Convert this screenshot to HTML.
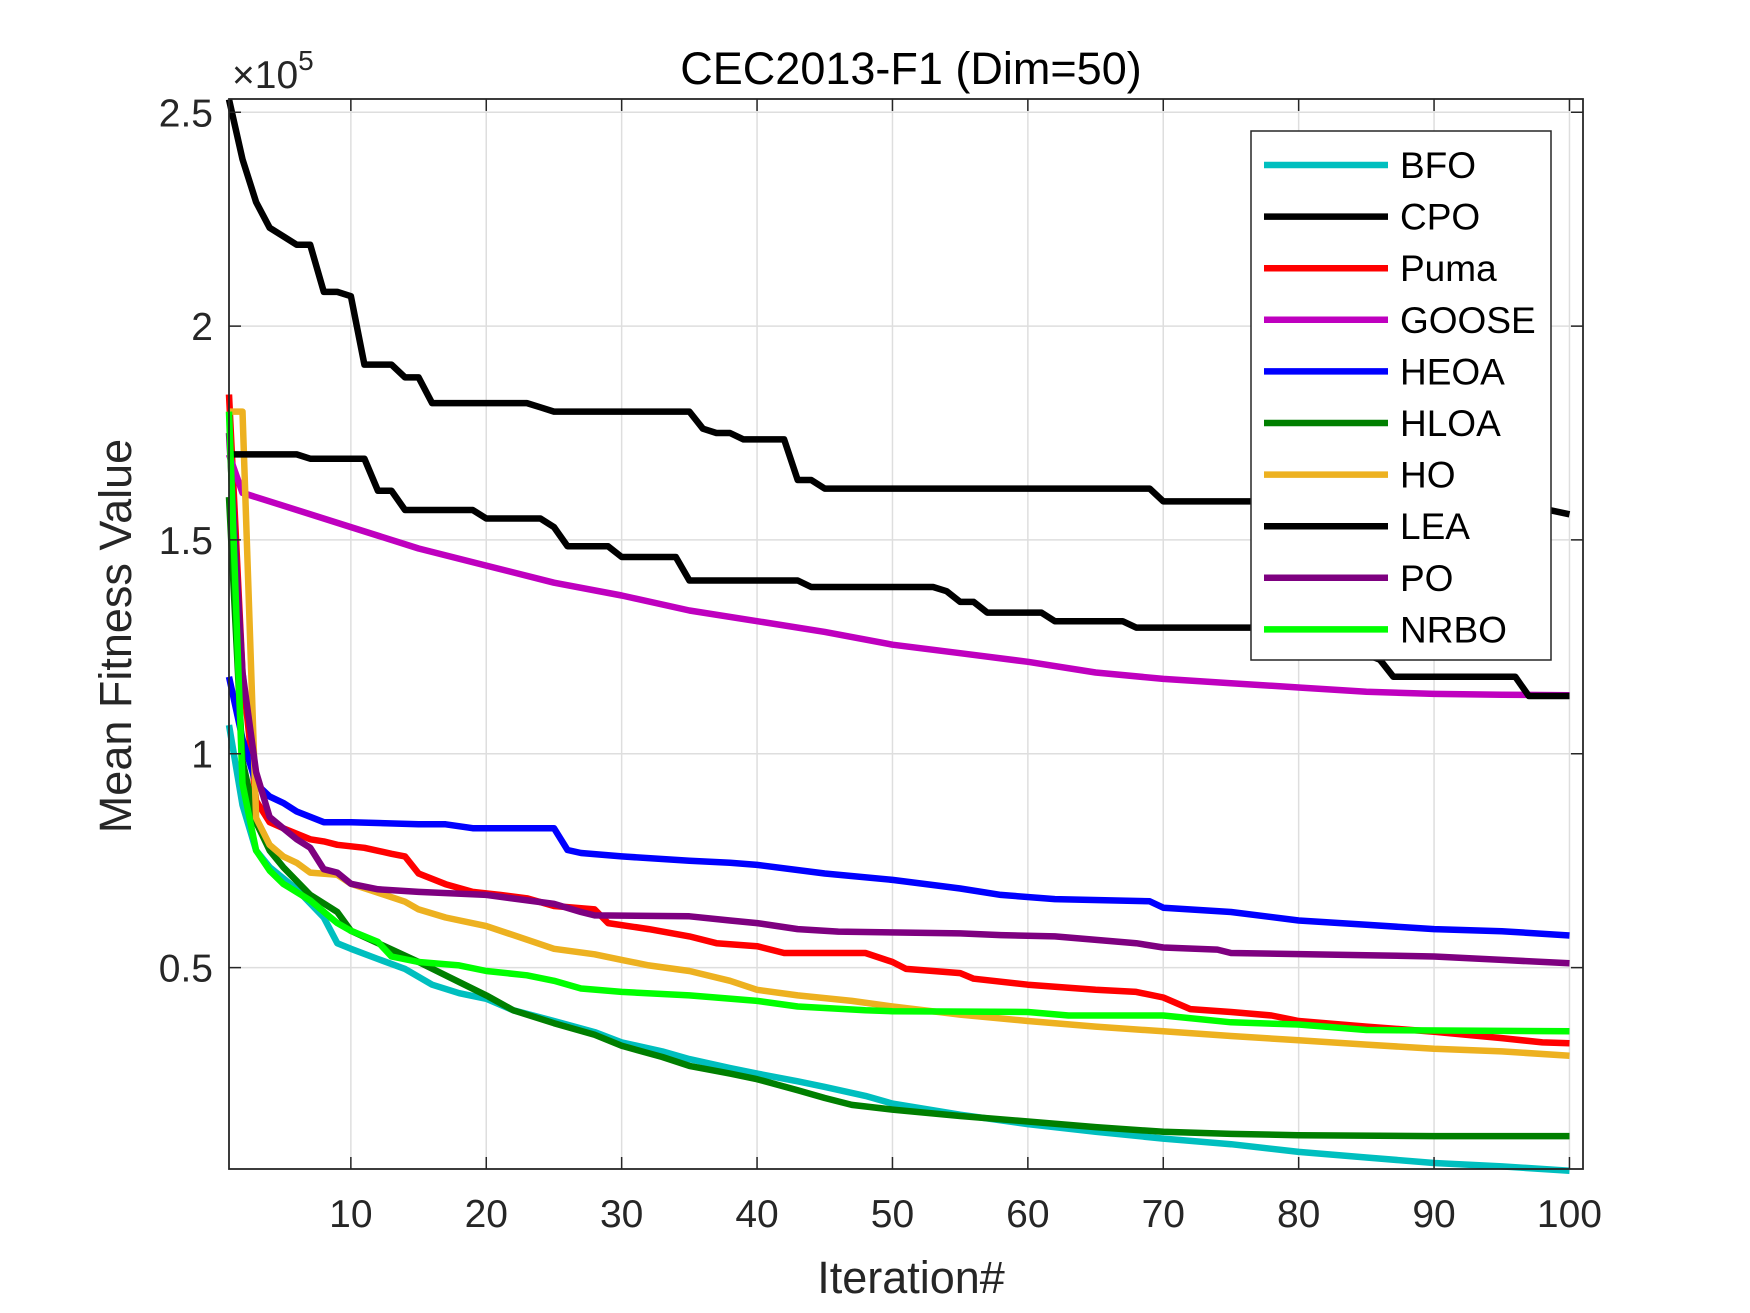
<!DOCTYPE html>
<html><head><meta charset="utf-8"><style>
html,body{margin:0;padding:0;background:#fff;}
svg{display:block;font-family:"Liberation Sans",Arial,sans-serif;}
</style></head><body>
<svg id="chart" width="1750" height="1313" xmlns="http://www.w3.org/2000/svg">
<rect width="1750" height="1313" fill="#fff"/>
<g id="grid"></g><g id="series"></g><g id="axes"></g><g id="legend"></g>
</svg>
<script>
const xTicks=[10,20,30,40,50,60,70,80,90,100];
const yTicks=[0.5,1,1.5,2,2.5];
const yTickLabels=["0.5","1","1.5","2","2.5"];
const seriesNames=["BFO","CPO","Puma","GOOSE","HEOA","HLOA","HO","LEA","PO","NRBO"];
const seriesColors=["#00bfbf","#000000","#ff0000","#bf00bf","#0000ff","#007f00","#edb120","#000000","#7e0080","#00ff00"];
const bfoIter=[1,2,3,4,6,8,9,10,12,14,16,18,20,22,25,28,30,33,35,38,40,43,45,48,50,55,60,65,70,75,80,85,90,95,100];
const bfoVal=[1.067,0.88,0.774,0.735,0.683,0.617,0.557,0.544,0.52,0.497,0.46,0.44,0.427,0.4,0.375,0.349,0.325,0.304,0.286,0.265,0.252,0.234,0.221,0.2,0.182,0.156,0.134,0.116,0.1,0.087,0.069,0.056,0.043,0.035,0.025];
const cpoIter=[1,2,3,4,5,6,7,8,9,10,11,13,14,15,16,23,24,25,35,36,37,38,39,42,43,44,45,69,70,96,97,100];
const cpoVal=[2.53,2.39,2.29,2.23,2.21,2.19,2.19,2.08,2.08,2.07,1.91,1.91,1.88,1.88,1.82,1.82,1.81,1.80,1.80,1.76,1.75,1.75,1.735,1.735,1.64,1.64,1.62,1.62,1.59,1.59,1.58,1.56];
const pumaIter=[1,2,3,4,5,6,7,8,9,11,13,14,15,17,19,21,23,25,28,29,32,35,37,40,42,48,50,51,55,56,60,65,68,70,72,75,78,80,85,90,95,98,100];
const pumaVal=[1.84,1.19,0.89,0.84,0.826,0.813,0.8,0.795,0.787,0.78,0.766,0.76,0.72,0.695,0.677,0.67,0.662,0.644,0.636,0.604,0.59,0.573,0.557,0.55,0.534,0.534,0.513,0.497,0.487,0.474,0.46,0.448,0.443,0.43,0.403,0.396,0.388,0.375,0.362,0.35,0.335,0.325,0.323];
const gooseIter=[1,2,5,10,15,20,25,30,35,40,45,50,55,60,65,70,75,80,85,90,95,100];
const gooseVal=[1.7,1.61,1.58,1.53,1.48,1.44,1.40,1.37,1.335,1.31,1.285,1.255,1.235,1.215,1.19,1.175,1.165,1.155,1.145,1.14,1.138,1.137];
const heoaIter=[1,2,3,4,5,6,8,10,15,17,19,25,26,27,30,35,38,40,45,50,55,58,62,69,70,75,80,85,90,95,100];
const heoaVal=[1.18,1.035,0.93,0.9,0.885,0.865,0.84,0.84,0.835,0.835,0.826,0.826,0.775,0.768,0.76,0.75,0.745,0.74,0.72,0.705,0.685,0.67,0.66,0.655,0.64,0.63,0.61,0.6,0.59,0.585,0.575];
const hloaIter=[1,2,3,4,5,7,9,10,12,15,18,20,22,25,28,30,33,35,38,40,43,45,47,50,55,60,65,70,75,80,90,100];
const hloaVal=[1.6,0.983,0.84,0.774,0.735,0.67,0.63,0.586,0.557,0.513,0.466,0.435,0.4,0.37,0.343,0.317,0.291,0.27,0.252,0.239,0.213,0.195,0.179,0.168,0.153,0.14,0.127,0.116,0.111,0.108,0.106,0.106];
const hoIter=[1,2,3,4,5,6,7,9,10,12,14,15,17,20,22,25,28,30,32,35,38,40,43,47,50,55,60,65,70,75,80,85,90,95,100];
const hoVal=[1.8,1.8,0.85,0.787,0.76,0.745,0.722,0.717,0.696,0.675,0.654,0.636,0.617,0.597,0.576,0.544,0.531,0.518,0.505,0.492,0.469,0.448,0.435,0.422,0.409,0.39,0.375,0.362,0.351,0.34,0.33,0.32,0.31,0.304,0.294];
const leaIter=[1,6,7,11,12,13,14,19,20,24,25,26,29,30,34,35,43,44,53,54,55,56,57,61,62,67,68,80,86,87,96,97,100];
const leaVal=[1.70,1.70,1.69,1.69,1.615,1.615,1.57,1.57,1.55,1.55,1.53,1.485,1.485,1.46,1.46,1.405,1.405,1.39,1.39,1.38,1.355,1.355,1.33,1.33,1.31,1.31,1.295,1.295,1.22,1.18,1.18,1.135,1.135];
const poIter=[1,2,3,4,5,6,7,8,9,10,12,15,20,25,27,28,35,38,40,43,46,55,58,62,68,70,74,75,85,90,95,100];
const poVal=[1.75,1.19,0.957,0.852,0.826,0.8,0.78,0.73,0.722,0.696,0.683,0.677,0.67,0.649,0.63,0.622,0.62,0.61,0.604,0.59,0.584,0.58,0.576,0.573,0.557,0.547,0.542,0.534,0.529,0.526,0.518,0.51];
const nrboIter=[1,2,3,4,5,7,9,10,12,13,15,18,20,23,25,27,30,35,40,43,48,50,60,63,70,75,80,85,100];
const nrboVal=[1.8,0.93,0.774,0.727,0.696,0.657,0.604,0.586,0.56,0.526,0.513,0.505,0.492,0.482,0.469,0.451,0.443,0.435,0.422,0.409,0.4,0.398,0.396,0.388,0.388,0.372,0.367,0.354,0.351];
const allIters=[bfoIter,cpoIter,pumaIter,gooseIter,heoaIter,hloaIter,hoIter,leaIter,poIter,nrboIter];
const allVals=[bfoVal,cpoVal,pumaVal,gooseVal,heoaVal,hloaVal,hoVal,leaVal,poVal,nrboVal];

const L=229,R=1583,T=99,B=1169;
const xMin=1,xMax=101,yMin=0.029,yMax=2.531;
function sx(v){return L+(v-xMin)/(xMax-xMin)*(R-L);}
function sy(v){return B-(v-yMin)/(yMax-yMin)*(B-T);}
const NS="http://www.w3.org/2000/svg";
function mk(tag,attrs,parent){const e=document.createElementNS(NS,tag);for(const k in attrs)e.setAttribute(k,attrs[k]);parent.appendChild(e);return e;}
const grid=document.getElementById('grid'),ser=document.getElementById('series'),ax=document.getElementById('axes'),leg=document.getElementById('legend'),svg=document.getElementById('chart');

xTicks.forEach((t,i)=>{
  const g=mk('line',{x1:sx(t),x2:sx(t),y1:T,y2:B,stroke:'#dedede','stroke-width':1.5},grid);
  
  
  const tk=mk('path',{d:`M${sx(t)},${B}v-12M${sx(t)},${T}v12`,stroke:'#262626','stroke-width':1.5},ax);
  
  
  const tl=mk('text',{x:sx(t),y:B+58,'text-anchor':'middle','font-size':39,fill:'#262626'},ax);
  tl.textContent=String(t);
  
  
});
yTicks.forEach((t,i)=>{
  const g=mk('line',{x1:L,x2:R,y1:sy(t),y2:sy(t),stroke:'#dedede','stroke-width':1.5},grid);
  
  
  const tk=mk('path',{d:`M${L},${sy(t)}h12M${R},${sy(t)}h-12`,stroke:'#262626','stroke-width':1.5},ax);
  
  
  const tl=mk('text',{x:L-16,y:sy(t)+14,'text-anchor':'end','font-size':39,fill:'#262626'},ax);
  tl.textContent=yTickLabels[i];
  
  
});
allVals.forEach((vals,s)=>{
  const its=allIters[s];
  const pts=vals.map((v,i)=>sx(its[i]).toFixed(1)+','+sy(v).toFixed(1)).join(' ');
  const p=mk('polyline',{points:pts,fill:'none',stroke:seriesColors[s],'stroke-width':6.5,'stroke-linejoin':'round'},ser);
  
  
});
const box=mk('rect',{x:L,y:T,width:R-L,height:B-T,fill:'none',stroke:'#262626','stroke-width':1.8},ax);



const lb=mk('rect',{x:1251,y:131,width:300,height:529,fill:'#fff',stroke:'#262626','stroke-width':1.5},leg);


seriesNames.forEach((n,i)=>{
  const y=165+i*51.6;
  const ln=mk('line',{x1:1264,x2:1388,y1:y,y2:y,stroke:seriesColors[i],'stroke-width':6.5},leg);
  
  
  const tx=mk('text',{x:1400,y:y+13,'font-size':37,fill:'#000'},leg);
  tx.textContent=n;
  
  
});
const title=mk('text',{x:911,y:84,'text-anchor':'middle','font-size':45,fill:'#000'},svg);
title.textContent='CEC2013-F1 (Dim=50)';


const xl=mk('text',{x:911,y:1293,'text-anchor':'middle','font-size':45,fill:'#262626'},svg);
xl.textContent='Iteration#';


const yl=mk('text',{x:0,y:0,'text-anchor':'middle','font-size':45,fill:'#262626',transform:'translate(131,636) rotate(-90)'},svg);
yl.textContent='Mean Fitness Value';


const ex=mk('text',{x:232,y:88,'font-size':39,fill:'#262626'},svg);
ex.innerHTML='×10<tspan dy="-18" font-size="28">5</tspan>';


</script>
</body></html>
